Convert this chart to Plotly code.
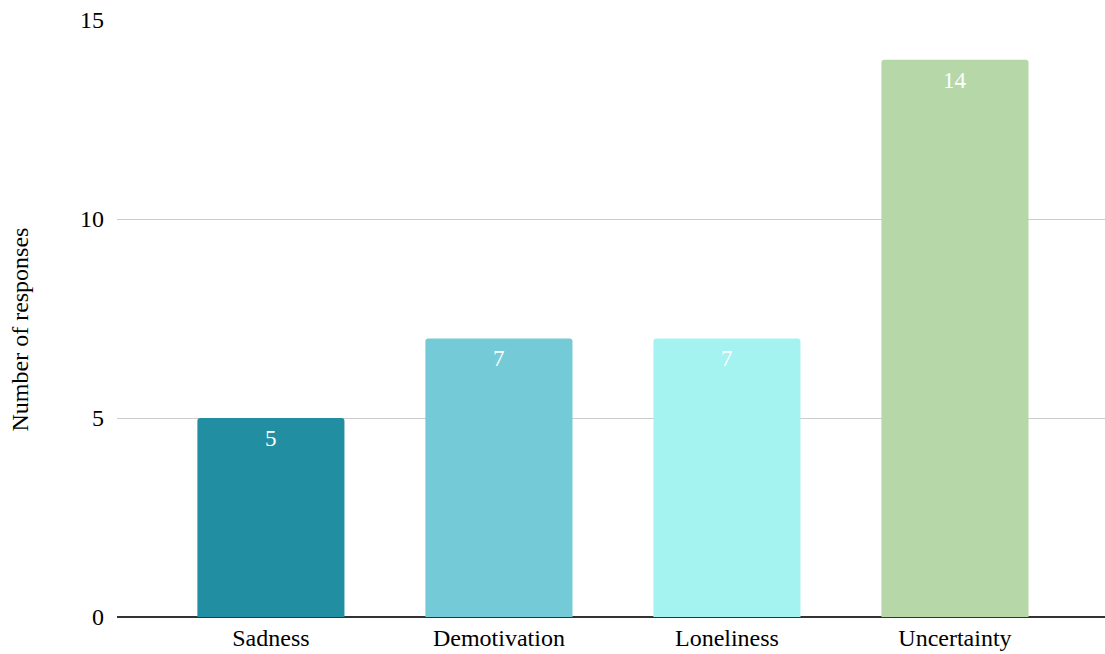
import plotly.graph_objects as go

categories = ["Sadness", "Demotivation", "Loneliness", "Uncertainty"]
values = [5, 7, 7, 14]
colors = ["#228EA2", "#74CAD7", "#A5F3F0", "#B6D7A8"]
y_ticks = [0, 5, 10, 15]
y_title = "Number of responses"

FONT = "Liberation Serif, Times New Roman, serif"
FS = 24

fig = go.Figure(
    go.Bar(
        x=categories,
        y=values,
        marker=dict(color=colors, line=dict(width=0)),
        width=0.645,
        hoverinfo="skip",
    )
)

for c, v in zip(categories, values):
    fig.add_annotation(
        x=c, y=v, xref="x", yref="y",
        text=str(v), showarrow=False,
        yanchor="top", yshift=-6,
        font=dict(family=FONT, size=23, color="white"),
    )

# y-axis title, centred on the full chart height as in the reference
fig.add_annotation(
    xref="paper", yref="paper", x=0, y=0.5,
    xanchor="center", yanchor="middle",
    xshift=-98, yshift=-11,
    text=y_title, textangle=-90, showarrow=False,
    font=dict(family=FONT, size=FS, color="#000000"),
)

fig.update_layout(
    width=1105,
    height=654,
    margin=dict(l=117, r=0, t=20, b=37),
    plot_bgcolor="white",
    paper_bgcolor="white",
    font=dict(family=FONT, size=FS, color="#000000"),
    showlegend=False,
    barcornerradius=3,
    xaxis=dict(
        range=[-0.675, 3.658],
        showgrid=False,
        showline=False,
        zeroline=False,
        ticks="",
        ticklabelstandoff=4,
        tickfont=dict(family=FONT, size=FS, color="#000000"),
    ),
    yaxis=dict(
        range=[0, 15],
        tickvals=y_ticks,
        ticktext=[str(t) for t in y_ticks],
        showgrid=True,
        gridcolor="#CCCCCC",
        gridwidth=1,
        zeroline=True,
        zerolinecolor="#333333",
        zerolinewidth=1.5,
        showline=False,
        ticks="",
        ticklabelstandoff=12,
        tickfont=dict(family=FONT, size=FS, color="#000000"),
    ),
)

fig.write_html("out.html")
